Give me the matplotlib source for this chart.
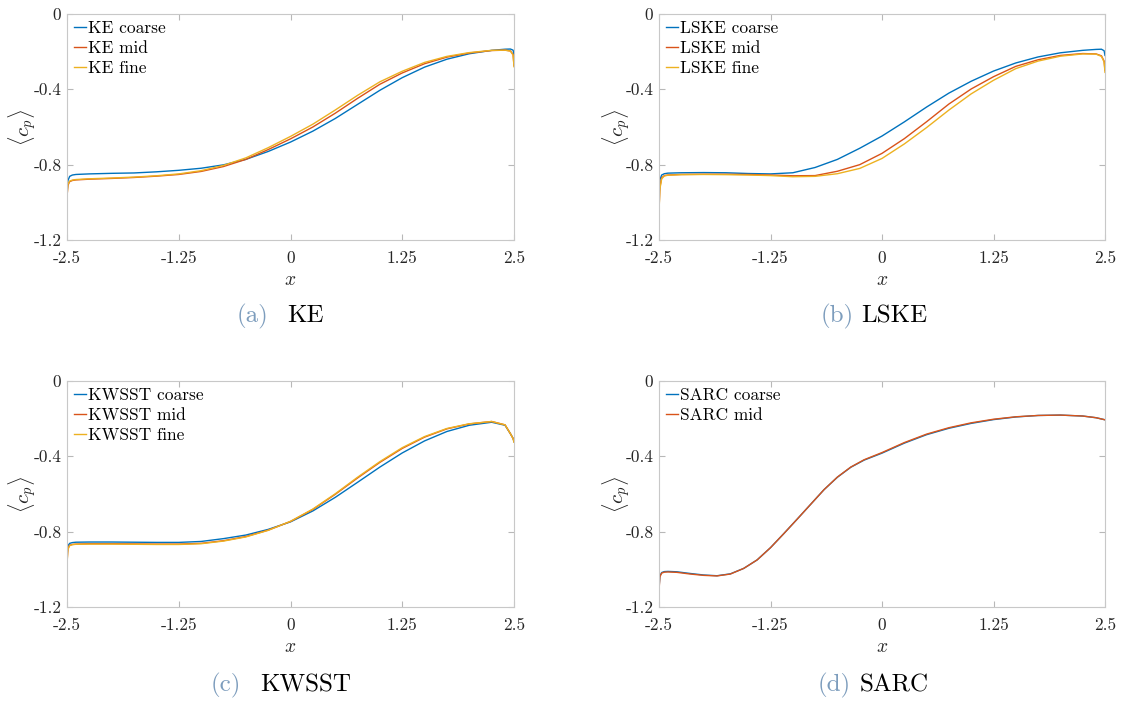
import numpy as np
import matplotlib
matplotlib.use('Agg')
import matplotlib.pyplot as plt

# 字体：Computer Modern 风格
plt.rcParams['font.family'] = 'serif'
plt.rcParams['font.serif'] = ['cmr10', 'DejaVu Serif']
plt.rcParams['mathtext.fontset'] = 'cm'
plt.rcParams['axes.unicode_minus'] = False
plt.rcParams['axes.formatter.use_mathtext'] = True

# ①数据==============================================================================
x = [-2.5, -2.498, -2.49, -2.47, -2.44, -2.4, -2.25, -2.0, -1.75, -1.5, -1.25, -1.0, -0.75, -0.5,
     -0.25, 0.0, 0.25, 0.5, 0.75, 1.0, 1.25, 1.5, 1.75, 2.0, 2.25, 2.4, 2.46, 2.49, 2.5]

ke_coarse = [-0.99, -0.94, -0.885, -0.862, -0.855, -0.852, -0.849, -0.846, -0.844, -0.838, -0.830, -0.819,
             -0.801, -0.772, -0.730, -0.680, -0.622, -0.555, -0.480, -0.405, -0.338, -0.282, -0.240, -0.211,
             -0.193, -0.187, -0.186, -0.192, -0.215]
ke_mid = [-1.04, -0.96, -0.91, -0.89, -0.884, -0.881, -0.877, -0.873, -0.868, -0.861, -0.852, -0.836,
          -0.810, -0.772, -0.720, -0.663, -0.600, -0.527, -0.448, -0.373, -0.313, -0.264, -0.229, -0.207,
          -0.194, -0.192, -0.196, -0.215, -0.275]
ke_fine = [-1.05, -0.96, -0.905, -0.887, -0.882, -0.879, -0.875, -0.871, -0.866, -0.859, -0.849, -0.832,
           -0.804, -0.764, -0.710, -0.650, -0.585, -0.510, -0.432, -0.360, -0.304, -0.257, -0.225, -0.205,
           -0.193, -0.192, -0.197, -0.218, -0.28]

lske_coarse = [-0.80, -0.96, -0.88, -0.855, -0.848, -0.845, -0.843, -0.842, -0.843, -0.847, -0.849, -0.843,
               -0.815, -0.772, -0.713, -0.648, -0.573, -0.494, -0.420, -0.357, -0.303, -0.260, -0.228, -0.206,
               -0.193, -0.188, -0.187, -0.195, -0.22]
lske_mid = [-0.80, -1.02, -0.92, -0.87, -0.858, -0.855, -0.852, -0.851, -0.851, -0.852, -0.855, -0.859,
            -0.858, -0.835, -0.800, -0.740, -0.662, -0.572, -0.478, -0.398, -0.333, -0.278, -0.243, -0.220,
            -0.210, -0.212, -0.222, -0.25, -0.30]
lske_fine = [-0.80, -1.03, -0.93, -0.875, -0.86, -0.856, -0.853, -0.852, -0.853, -0.855, -0.858, -0.864,
             -0.862, -0.848, -0.820, -0.767, -0.690, -0.603, -0.510, -0.424, -0.352, -0.290, -0.250, -0.224,
             -0.212, -0.213, -0.225, -0.255, -0.31]

kwsst_coarse = [-0.96, -0.92, -0.875, -0.862, -0.858, -0.856, -0.855, -0.855, -0.856, -0.857, -0.857, -0.852,
                -0.837, -0.818, -0.788, -0.748, -0.690, -0.618, -0.538, -0.457, -0.382, -0.318, -0.268, -0.235,
                -0.219, -0.235, -0.28, -0.305, -0.322]
kwsst_mid = [-1.0, -0.95, -0.89, -0.872, -0.868, -0.866, -0.864, -0.864, -0.865, -0.866, -0.866, -0.862,
             -0.848, -0.826, -0.792, -0.746, -0.682, -0.602, -0.515, -0.432, -0.358, -0.298, -0.254, -0.228,
             -0.215, -0.233, -0.28, -0.305, -0.322]
kwsst_fine = [-1.02, -0.96, -0.895, -0.874, -0.869, -0.867, -0.866, -0.866, -0.867, -0.868, -0.868, -0.864,
              -0.850, -0.828, -0.793, -0.745, -0.680, -0.599, -0.511, -0.428, -0.354, -0.295, -0.252, -0.227,
              -0.215, -0.233, -0.28, -0.306, -0.325]

# SARC 单独取点（曲率较大）
x_sarc = [-2.5, -2.498, -2.49, -2.47, -2.44, -2.4, -2.3, -2.15, -2.0, -1.85, -1.7, -1.55, -1.4, -1.25,
          -1.1, -0.95, -0.8, -0.65, -0.5, -0.35, -0.2, 0.0, 0.25, 0.5, 0.75, 1.0, 1.25, 1.5, 1.75, 2.0,
          2.25, 2.4, 2.5]
sarc_coarse = [-1.16, -1.09, -1.035, -1.017, -1.012, -1.011, -1.013, -1.022, -1.030, -1.034, -1.024, -0.995,
               -0.950, -0.885, -0.810, -0.733, -0.655, -0.577, -0.511, -0.458, -0.420, -0.383, -0.330,
               -0.285, -0.251, -0.225, -0.205, -0.191, -0.183, -0.181, -0.186, -0.195, -0.206]
sarc_mid = [-1.18, -1.10, -1.04, -1.02, -1.015, -1.014, -1.016, -1.025, -1.032, -1.035, -1.025, -0.995,
            -0.950, -0.885, -0.810, -0.733, -0.655, -0.577, -0.510, -0.457, -0.418, -0.380, -0.327,
            -0.282, -0.248, -0.222, -0.203, -0.190, -0.183, -0.181, -0.186, -0.195, -0.206]

x_ticks = [-2.5, -1.25, 0, 1.25, 2.5]
x_ticklabels = ['-2.5', '-1.25', '0', '1.25', '2.5']
y_ticks = [-1.2, -0.8, -0.4, 0]
y_ticklabels = ['-1.2', '-0.8', '-0.4', '0']

colors = ['#0072BD', '#D95319', '#EDB120']

panels = [
    ('(a)', 'KE', ['KE coarse', 'KE mid', 'KE fine'], x, [ke_coarse, ke_mid, ke_fine]),
    ('(b)', 'LSKE', ['LSKE coarse', 'LSKE mid', 'LSKE fine'], x, [lske_coarse, lske_mid, lske_fine]),
    ('(c)', 'KWSST', ['KWSST coarse', 'KWSST mid', 'KWSST fine'], x, [kwsst_coarse, kwsst_mid, kwsst_fine]),
    ('(d)', 'SARC', ['SARC coarse', 'SARC mid'], x_sarc, [sarc_coarse, sarc_mid]),
]

# ②画布与坐标轴位置（像素）=================================================================
W, H = 1123, 702
fig = plt.figure(figsize=(W / 100, H / 100), dpi=100)

# 每个子图的 (左, 右, 上, 下)、y 轴标签位置，以及标题位置
boxes = [(67, 514, 14, 240), (659, 1105, 14, 240), (67, 514, 381, 607), (659, 1105, 381, 607)]
ylab_x = [39, 633, 39, 633]
cap_pos = [(268, 287, 322), (854, 861, 322), (241, 260, 691), (851, 860, 691)]

for k, (tag, name, labels, xs, series) in enumerate(panels):
    l, r, t, b = boxes[k]
    ax = fig.add_axes([l / W, 1 - b / H, (r - l) / W, (b - t) / H])
    for i, ys in enumerate(series):
        ax.plot(xs, ys, color=colors[i], lw=1.0, label=labels[i])
    ax.set_xlim(-2.5, 2.5)
    ax.set_ylim(-1.2, 0)
    ax.set_xticks(x_ticks)
    ax.set_xticklabels(x_ticklabels)
    ax.set_yticks(y_ticks)
    ax.set_yticklabels(y_ticklabels)
    ax.tick_params(direction='in', length=4, width=0.8, color='#b8b8b8', labelcolor='#262626',
                   labelsize=12.5, top=True, right=True)
    ax.tick_params(axis='x', pad=8)
    ax.tick_params(axis='y', pad=4)
    for s in ax.spines.values():
        s.set_color('#c8c8c8')
        s.set_linewidth(0.8)
    ax.set_xlabel(r'$x$', fontsize=14, color='#262626', labelpad=3)
    ax.set_ylabel(r'$\langle c_p \rangle$', fontsize=15, color='#262626')
    ax.yaxis.set_label_coords((ylab_x[k] - l) / (r - l), 0.5)
    ax.legend(loc='upper left', frameon=False, fontsize=12.5, handlelength=0.7, handletextpad=0.12,
              labelspacing=0.25, borderaxespad=0.1, borderpad=0.3)

    # 子图标题
    xr, xl, yb = cap_pos[k]
    fig.text(xr / W, 1 - yb / H, tag, ha='right', va='baseline', fontsize=18, color='#7d9dbd')
    fig.text(xl / W, 1 - yb / H, name, ha='left', va='baseline', fontsize=18, color='black')

fig.savefig('out.png', dpi=100)
